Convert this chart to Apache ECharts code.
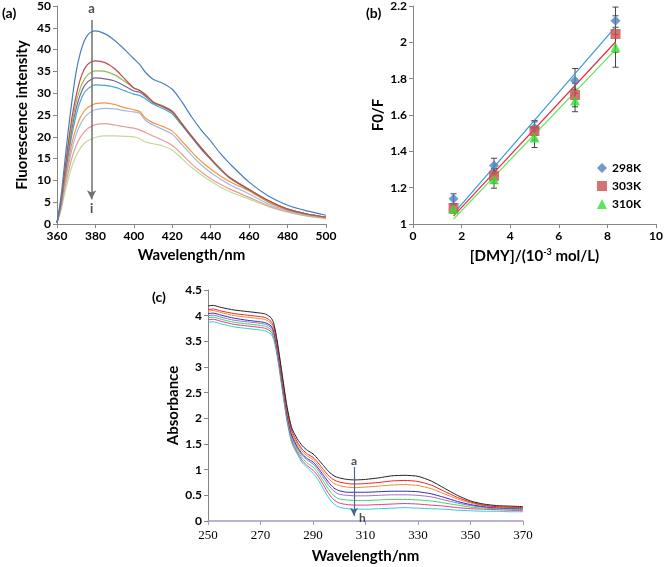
<!DOCTYPE html>
<html><head><meta charset="utf-8">
<script src="https://cdn.jsdelivr.net/npm/echarts@6/dist/echarts.min.js"></script>
<style>html,body{margin:0;padding:0;background:#fff}#c{width:666px;height:567px}</style>
</head><body><div id="c"></div>
<script>
// ---------- Panel (a): fluorescence spectra ----------
const A_WAVE = [360,362,364,366,368,370,372,374,376,378,380,385,390,395,400,403,406,410,415,420,425,430,435,440,445,450,460,470,480,490,500];
const A_NAMES = ['a','b','c','d','e','f','g','h','i'];
const A_1 = [0.3,6,14,22,29,35,39,41.8,43.4,44.1,44.3,43.6,42.1,40.1,37.9,36.6,34.8,33.2,32.3,30.9,28,24.6,21.6,19.0,16.2,13.8,9.6,6.4,4.3,3.0,2.0];
const A_2 = [0.3,5,12,19,25,29.5,33,35.3,36.6,37.2,37.4,37.0,35.6,33.4,31.2,30.6,29.7,28.0,27.0,25.8,23.0,20.2,17.5,15.0,12.7,10.6,7.9,5.4,3.4,2.3,1.6];
const A_3 = [0.3,4.8,11.5,18,23.5,28,31,33,34.2,34.8,35.1,35.0,34.2,32.8,31.2,30.7,29.7,28.0,27.1,25.9,23.1,20.2,17.5,15.0,12.6,10.6,7.9,5.3,3.4,2.3,1.6];
const A_4 = [0.3,4.6,11,17,22.5,26.5,29.5,31.5,32.6,33.2,33.5,33.3,32.8,31.7,30.5,30.2,29.3,27.8,26.9,25.6,22.9,20.0,17.3,14.9,12.6,10.6,7.9,5.3,3.4,2.3,1.6];
const A_5 = [0.3,4.4,10.5,16,21,25,28,30,31,31.6,31.9,31.8,31.4,30.6,29.8,29.5,28.7,27.5,26.5,25.2,22.6,19.9,17.2,14.8,12.5,10.5,7.8,5.3,3.4,2.3,1.6];
const A_6 = [0.3,4,9.5,14.5,19,22,24.3,25.8,26.7,27.2,27.6,27.8,27.4,26.7,26.2,25.8,24.3,23.2,22.4,21.3,19.0,16.6,14.4,12.6,11.0,9.7,7.6,5.0,3.2,2.2,1.5];
const A_7 = [0.3,3.8,9,13.5,17.5,20.5,22.7,24.2,25.2,25.8,26.2,26.5,26.4,26.0,25.7,25.4,23.8,22.7,21.7,20.6,18.2,15.8,13.6,11.8,10.3,9.0,6.9,4.6,3.0,2.0,1.4];
const A_8 = [0.3,3.4,8,12,15.5,18,19.8,21,21.9,22.4,22.8,23.0,22.7,22.3,22.0,21.6,21.0,20.2,19.2,18.0,16.0,13.8,12.0,10.4,9.1,8.0,6.1,4.2,2.8,1.9,1.3];
const A_9 = [0.3,3,7,10.5,13.5,15.7,17.3,18.4,19.1,19.5,19.9,20.2,20.2,20.1,20.0,19.6,18.8,18.4,17.9,17.0,15.0,13.0,11.3,9.8,8.5,7.4,5.7,4.0,2.7,1.8,1.2];
const A_VALUES = [A_1,A_2,A_3,A_4,A_5,A_6,A_7,A_8,A_9];
const A_COLORS = ['#4A7EBB','#BE4B48','#98B954','#7D60A0','#46AAC5','#F69240','#A3B9E0','#E39C9A','#C2DB9A'];

// ---------- Panel (b): Stern-Volmer ----------
const B_CONC = [1.667,3.333,5,6.667,8.333];
const B_298 = [1.139,1.322,1.530,1.788,2.119];
const B_303 = [1.088,1.265,1.512,1.710,2.046];
const B_310 = [1.082,1.247,1.476,1.680,1.973];
const B_ERR_298 = [0.027,0.040,0.040,0.068,0.075];
const B_ERR_303 = [0.025,0.040,0.050,0.065,0.100];
const B_ERR_310 = [0.022,0.050,0.055,0.062,0.110];
const B_TREND_X = [1.667,8.333];
const B_TREND_298 = [1.057,2.085];
const B_TREND_303 = [1.043,2.002];
const B_TREND_310 = [1.027,1.960];

// ---------- Panel (c): absorption spectra ----------
const C_WAVE = [250,252,255,260,265,270,272,274,275,276,277,278,279,280,281,282,284,286,288,290,292,294,296,298,300,303,306,310,315,320,325,330,335,340,345,350,355,360,365,370];
const C_NAMES = ['ca','cb','cc','cd','ce','cf','cg','ch'];
const C_1 = [4.19,4.20,4.16,4.11,4.08,4.05,4.03,3.96,3.86,3.62,3.30,2.95,2.60,2.26,2.00,1.80,1.60,1.46,1.37,1.31,1.20,1.08,0.96,0.88,0.84,0.81,0.80,0.81,0.84,0.88,0.89,0.87,0.78,0.64,0.50,0.39,0.33,0.30,0.29,0.28];
const C_2 = [4.12,4.13,4.09,4.04,4.01,3.98,3.96,3.89,3.79,3.56,3.25,2.90,2.55,2.21,1.95,1.75,1.54,1.39,1.30,1.24,1.13,1.00,0.88,0.80,0.76,0.73,0.72,0.73,0.75,0.78,0.79,0.77,0.70,0.58,0.46,0.37,0.31,0.28,0.27,0.26];
const C_3 = [4.09,4.10,4.06,4.00,3.97,3.94,3.92,3.85,3.75,3.52,3.21,2.86,2.51,2.17,1.91,1.71,1.50,1.35,1.26,1.20,1.08,0.95,0.82,0.73,0.69,0.66,0.65,0.66,0.68,0.70,0.71,0.69,0.63,0.53,0.43,0.35,0.30,0.27,0.26,0.25];
const C_4 = [4.04,4.05,4.01,3.95,3.91,3.88,3.86,3.80,3.70,3.47,3.16,2.81,2.46,2.12,1.86,1.66,1.45,1.30,1.21,1.15,1.03,0.89,0.75,0.64,0.59,0.56,0.56,0.56,0.57,0.58,0.58,0.57,0.53,0.46,0.38,0.32,0.28,0.26,0.25,0.24];
const C_5 = [4.00,4.01,3.97,3.91,3.88,3.85,3.83,3.77,3.67,3.44,3.13,2.78,2.43,2.09,1.83,1.63,1.42,1.27,1.18,1.11,0.99,0.84,0.69,0.58,0.52,0.50,0.49,0.49,0.50,0.51,0.51,0.50,0.47,0.41,0.35,0.30,0.27,0.25,0.24,0.23];
const C_6 = [3.96,3.97,3.93,3.87,3.84,3.81,3.79,3.73,3.63,3.40,3.09,2.74,2.39,2.05,1.79,1.59,1.38,1.22,1.12,1.05,0.93,0.77,0.61,0.49,0.43,0.41,0.40,0.40,0.41,0.42,0.42,0.41,0.39,0.35,0.31,0.27,0.25,0.24,0.23,0.22];
const C_7 = [3.92,3.93,3.89,3.83,3.80,3.77,3.75,3.69,3.59,3.36,3.05,2.70,2.35,2.01,1.75,1.55,1.34,1.17,1.07,0.99,0.87,0.70,0.53,0.41,0.35,0.32,0.31,0.31,0.32,0.33,0.34,0.33,0.31,0.29,0.26,0.24,0.23,0.22,0.21,0.20];
const C_8 = [3.87,3.88,3.84,3.78,3.75,3.72,3.70,3.64,3.54,3.31,3.00,2.65,2.30,1.97,1.71,1.51,1.30,1.13,1.03,0.93,0.80,0.62,0.45,0.33,0.27,0.24,0.23,0.23,0.24,0.25,0.26,0.25,0.24,0.23,0.21,0.20,0.19,0.19,0.18,0.18];
const C_VALUES = [C_1,C_2,C_3,C_4,C_5,C_6,C_7,C_8];
const C_COLORS = ['#222222','#E8262A','#F58A2A','#2B2BC8','#A26BD0','#2EE05A','#F0309A','#26D6C8'];

// ---------- common styles ----------
const BOLD = {fontFamily:'Lato', fontWeight:'bold', color:'#000'};
const GRAY = '#868686';
function valAxis(grid, min, max, interval, extra){
  return Object.assign({
    gridIndex:grid, type:'value', min:min, max:max, interval:interval,
    axisLine:{show:true, onZero:false, lineStyle:{color:GRAY, width:1}},
    axisTick:{show:true, length:4, lineStyle:{color:GRAY}},
    splitLine:{show:false},
    axisLabel:Object.assign({fontSize:12, margin:6}, BOLD),
    nameLocation:'middle',
    nameTextStyle:Object.assign({fontSize:15}, BOLD)
  }, extra||{});
}

const series = [];
A_VALUES.forEach((vals,i)=>{
  series.push({name:A_NAMES[i], type:'line', xAxisIndex:0, yAxisIndex:0, smooth:0.3, showSymbol:false, symbol:'none',
    data:A_WAVE.map((w,j)=>[w, vals[j]]), lineStyle:{color:A_COLORS[i], width:1.2}, itemStyle:{color:A_COLORS[i]}, silent:true, z:2 - i*0.01});
});
// arrow + labels, panel (a)
series.push({name:'arrowA', type:'scatter', xAxisIndex:0, yAxisIndex:0, symbolSize:0, silent:true,
  data:[{value:[378,49.3], name:'a'},{value:[378,3.4], name:'i'}],
  label:{show:true, position:'inside', formatter:'{b}', fontFamily:'Lato', fontWeight:'bold', fontSize:13, color:'#222'},
  markLine:{silent:true, symbol:['none','arrow'], symbolSize:[7,9], label:{show:false},
    lineStyle:{color:'#707070', width:1.5, type:'solid'},
    data:[[{coord:[378,46.8]},{coord:[378,5.7]}]]}
});

// panel (b)
function errSeries(ys, errs){
  return {type:'custom', xAxisIndex:1, yAxisIndex:1, silent:true, z:3,
    data:B_CONC.map((x,i)=>[x, ys[i]-errs[i], ys[i]+errs[i]]),
    encode:{x:0, y:[1,2]},
    renderItem:function(params, api){
      const x = api.value(0);
      const lo = api.coord([x, api.value(1)]);
      const hi = api.coord([x, api.value(2)]);
      const w = 3, st = {stroke:'#444', lineWidth:1};
      return {type:'group', children:[
        {type:'line', shape:{x1:lo[0], y1:lo[1], x2:hi[0], y2:hi[1]}, style:st},
        {type:'line', shape:{x1:lo[0]-w, y1:lo[1], x2:lo[0]+w, y2:lo[1]}, style:st},
        {type:'line', shape:{x1:hi[0]-w, y1:hi[1], x2:hi[0]+w, y2:hi[1]}, style:st}
      ]};
    }};
}
series.push(errSeries(B_298, B_ERR_298), errSeries(B_303, B_ERR_303), errSeries(B_310, B_ERR_310));
[[B_TREND_298,'#3A9AD6'],[B_TREND_303,'#E8283E'],[B_TREND_310,'#55E855']].forEach(t=>{
  series.push({name:'trend', type:'line', xAxisIndex:1, yAxisIndex:1, showSymbol:false, symbol:'none', silent:true, z:4,
    data:B_TREND_X.map((x,j)=>[x, t[0][j]]), lineStyle:{color:t[1], width:1.2}});
});
series.push({name:'298K', type:'scatter', xAxisIndex:1, yAxisIndex:1, symbol:'diamond', symbolSize:10, z:5,
  data:B_CONC.map((x,j)=>[x,B_298[j]]), itemStyle:{color:'#4F81BD'}});
series.push({name:'303K', type:'scatter', xAxisIndex:1, yAxisIndex:1, symbol:'rect', symbolSize:10, z:5,
  data:B_CONC.map((x,j)=>[x,B_303[j]]), itemStyle:{color:'#C9504F'}});
series.push({name:'310K', type:'scatter', xAxisIndex:1, yAxisIndex:1, symbol:'triangle', symbolSize:10, z:5,
  data:B_CONC.map((x,j)=>[x,B_310[j]]), itemStyle:{color:'#33E033'}});

// panel (c)
C_VALUES.forEach((vals,i)=>{
  series.push({name:C_NAMES[i], type:'line', xAxisIndex:2, yAxisIndex:2, smooth:0.2, showSymbol:false, symbol:'none', silent:true,
    data:C_WAVE.map((w,j)=>[w, vals[j]]), lineStyle:{color:C_COLORS[i], width:1}, z:2 - i*0.01});
});
series.push({name:'arrowC', type:'scatter', xAxisIndex:2, yAxisIndex:2, symbolSize:0, silent:true,
  data:[{value:[305.6,1.17], name:'a'},{value:[308.8,0.06], name:'h'}],
  label:{show:true, position:'inside', formatter:'{b}', fontFamily:'Lato', fontWeight:'bold', fontSize:12, color:'#222'},
  markLine:{silent:true, symbol:['none','arrow'], symbolSize:[6,8], label:{show:false},
    lineStyle:{color:'#4A6590', width:1.2, type:'solid'},
    data:[[{coord:[305.6,1.05]},{coord:[305.6,0.1]}]]}
});

const option = {
  animation:false,
  backgroundColor:'#fff',
  grid:[
    {left:57, top:6, width:269, height:218},
    {left:413, top:6, width:245, height:218},
    {left:208, top:290, width:315, height:231}
  ],
  xAxis:[
    valAxis(0,360,500,20,{name:'Wavelength/nm', nameGap:24}),
    valAxis(1,0,10,2,{name:'[DMY]/(10{sup|-3} mol/L)', nameGap:24,
      nameTextStyle:Object.assign({fontSize:15, rich:{sup:{fontSize:9, verticalAlign:'top', fontFamily:'Lato', fontWeight:'bold', padding:[0,0,8,0]}}}, BOLD)}),
    valAxis(2,250,370,20,{name:'Wavelength/nm', nameGap:28,
      axisLine:{show:true, onZero:false, lineStyle:{color:'#9C9CCC', width:1.5}},
      axisTick:{show:true, length:4, lineStyle:{color:'#9C9CCC'}},
      axisLabel:{fontFamily:'Liberation Serif', fontSize:13, color:'#000', margin:8}})
  ],
  yAxis:[
    valAxis(0,0,50,5,{name:'Fluorescence intensity', nameGap:27}),
    valAxis(1,1,2.2,0.2,{name:'F0/F', nameGap:27}),
    valAxis(2,0,4.5,0.5,{name:'Absorbance', nameGap:27})
  ],
  legend:{data:['298K','303K','310K'], orient:'vertical', left:592, top:157, itemGap:6,
    itemWidth:10, itemHeight:10, selectedMode:false,
    textStyle:{fontFamily:'Lato', fontWeight:'bold', fontSize:12, color:'#000'}},
  graphic:[
    {type:'text', left:2, top:6, style:{text:'(a)', font:'bold 14px Lato', fill:'#000'}},
    {type:'text', left:366, top:6, style:{text:'(b)', font:'bold 14px Lato', fill:'#000'}},
    {type:'text', left:152, top:290, style:{text:'(c)', font:'bold 14px Lato', fill:'#000'}}
  ],
  series:series
};
const chart = echarts.init(document.getElementById('c'), null, {renderer:'canvas'});
chart.setOption(option);
</script>
</body></html>
